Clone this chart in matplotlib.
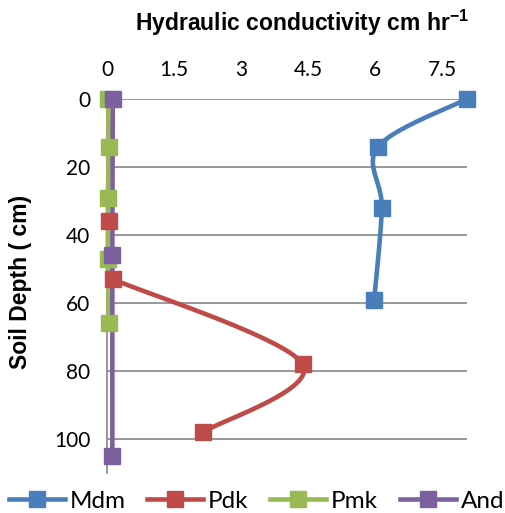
import numpy as np
import matplotlib; matplotlib.use('Agg')
import matplotlib.pyplot as plt

# data (depth cm, Ks cm/hr)
mdm_k = [8.05, 6.07, 6.15, 5.98]
mdm_d = [0, 14, 32, 59]
pdk_k = [0.05, 0.14, 4.38, 2.15]
pdk_d = [36, 53, 78, 98]
pmk_k = [0.03, 0.04, 0.02, 0.02, 0.04]
pmk_d = [0, 14, 29, 47, 66]
and_k = [0.13, 0.12, 0.12]
and_d = [0, 46, 105]

# (name, k, depth, colour, first point joined by the line)
series = [('Mdm', mdm_k, mdm_d, '#4A7EBB', 0),
          ('Pdk', pdk_k, pdk_d, '#BE4B48', 1),
          ('Pmk', pmk_k, pmk_d, '#98B954', 0),
          ('And', and_k, and_d, '#7D60A0', 0)]

XMAX, YMAX = 8.05, 110
W, H = 505, 513
L, R, T, B = 107, 466.7, 99, 473


def smooth(xs, ys, sx, sy, n=30):
    # Excel-like smoothed line: cubic bezier with catmull-rom control points,
    # done in pixel space so the curve looks right on screen
    p = np.column_stack([np.asarray(xs) * sx, np.asarray(ys) * sy])
    if len(p) < 3:
        return xs, ys
    out = [p[0]]
    t = np.linspace(0, 1, n)[1:, None]
    for i in range(len(p) - 1):
        p0 = p[i - 1] if i > 0 else p[i]
        p3 = p[i + 2] if i + 2 < len(p) else p[i + 1]
        c1 = p[i] + (p[i + 1] - p0) / 6
        c2 = p[i + 1] - (p3 - p[i]) / 6
        seg = ((1 - t) ** 3 * p[i] + 3 * (1 - t) ** 2 * t * c1
               + 3 * (1 - t) * t ** 2 * c2 + t ** 3 * p[i + 1])
        out.extend(seg)
    out = np.array(out)
    return out[:, 0] / sx, out[:, 1] / sy


fig = plt.figure(figsize=(W / 100, H / 100), dpi=100)
ax = fig.add_axes([L / W, 1 - B / H, (R - L) / W, (B - T) / H])
sx = (R - L) / XMAX
sy = (B - T) / YMAX

LW, MS = 3.3, 11
for name, k, d, c, s0 in series:
    xs, ys = smooth(k[s0:], d[s0:], sx, sy)
    ax.plot(xs, ys, color=c, lw=LW, solid_capstyle='round', zorder=3, clip_on=False)
    ax.plot(k, d, ls='none', marker='s', ms=MS, color=c, zorder=4, clip_on=False)
    ax.plot([], [], color=c, lw=LW, marker='s', ms=MS, label=name)

ax.set_xlim(0, XMAX)
ax.set_ylim(YMAX, 0)
ax.set_xticks([0, 1.5, 3, 4.5, 6, 7.5])
ax.set_xticklabels(['0', '1.5', '3', '4.5', '6', '7.5'])
ax.set_yticks([0, 20, 40, 60, 80, 100])
ax.xaxis.tick_top()
ax.tick_params(axis='both', length=0, labelsize=15)
for lab in ax.get_xticklabels() + ax.get_yticklabels():
    lab.set_family('Lato')
ax.tick_params(axis='x', pad=14)
ax.tick_params(axis='y', pad=12)

ax.grid(axis='y', color='#868686', lw=1.2)
ax.set_axisbelow(True)
for s in ['top', 'right', 'bottom']:
    ax.spines[s].set_visible(False)
ax.spines['left'].set_color('#868686')
ax.spines['left'].set_linewidth(1.2)

fig.text(135 / W, 1 - 23 / H, 'Hydraulic conductivity cm hr$^{\\mathregular{-1}}$',
         ha='left', va='center', fontsize=16.5, fontweight='bold',
         family='Liberation Sans')
fig.text(21 / W, 1 - 282 / H, 'Soil Depth ( cm)', rotation=90,
         ha='center', va='center', fontsize=16.5, fontweight='bold',
         family='Liberation Sans')

leg = fig.legend(loc='center', bbox_to_anchor=(0.5 + 4 / W, 1 - 501 / H), ncol=4,
                 frameon=False, prop={'family': 'Lato', 'size': 17.5},
                 handlelength=2.3, columnspacing=0.9, handletextpad=0.2)

fig.savefig('out.png', dpi=100)
